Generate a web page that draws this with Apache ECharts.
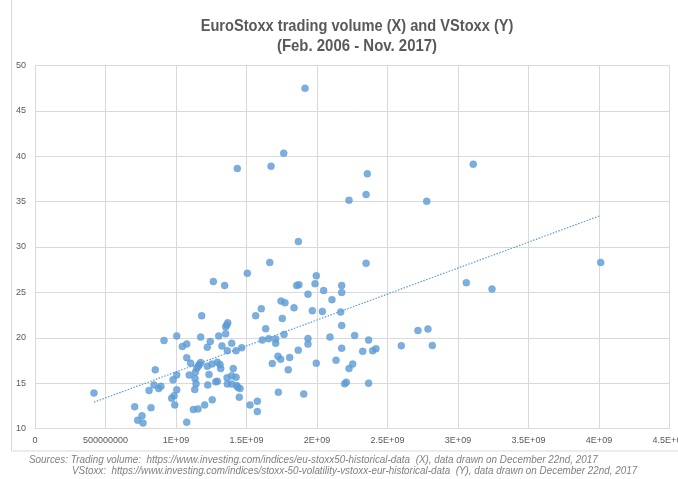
<!DOCTYPE html>
<html>
<head>
<meta charset="utf-8">
<script src="https://cdn.jsdelivr.net/npm/echarts@6/dist/echarts.min.js"></script>
<style>
html,body{margin:0;padding:0;background:#fff;}
#chart{width:678px;height:479px;}
</style>
</head>
<body>
<div id="chart"></div>
<script>
// Trading volume (billions) – X
var volumeBn = [
0.418,0.853,0.844,0.809,0.877,0.893,0.707,0.823,0.759,0.728,0.766,
1.182,1.367,1.36,1.352,1.352,1.303,1.005,1.175,0.915,1.243,1.395,1.076,1.045,1.222,1.326,1.364,1.426,1.076,1.104,1.175,1.165,1.158,1.147,1.137,1.094,1.222,1.255,1.293,1.312,1.317,1.406,1.234,1.293,1.362,1.395,1.426,1.364,1.395,1.43,0.979,1.005,1.135,1.142,1.133,1.225,1.005,0.986,0.969,0.991,1.076,1.123,1.156,1.203,1.257,1.282,1.449,1.438,
1.265,1.345,
1.868,1.665,1.506,1.995,1.856,1.872,1.986,2.047,1.936,2.106,1.745,1.773,1.605,1.837,1.565,1.967,2.038,1.754,1.636,1.766,1.612,1.657,1.707,1.707,1.936,1.936,2.092,1.466,1.867,1.723,1.742,1.806,1.683,1.796,1.995,2.135,1.454,1.726,1.906,1.525,1.577,1.577,
2.348,2.175,2.175,2.168,2.175,2.267,2.366,2.175,2.324,2.395,2.418,2.253,2.227,2.196,2.208,2.366,2.598,2.716,2.787,2.818,
3.108,2.778,4.012,3.059,3.241,
1.915,1.764,1.435,1.674,2.357,2.348,2.227
];
// VStoxx – Y
var vstoxx = [
13.9,16.47,14.8,14.2,14.4,14.65,12.4,12.3,11.4,10.9,10.6,
22.43,21.65,21.4,21.2,20.44,20.2,20.2,20.07,19.7,19.6,19.4,19.3,19.04,18.96,19.1,18.57,18.57,17.8,17.2,17.27,17.05,16.87,16.65,16.2,15.9,16.87,17.1,17.3,17.05,16.6,16.6,15.95,15.2,15.6,15.8,15.65,14.9,14.9,14.73,15.36,15.9,15.5,14.92,14.3,14.8,14.26,13.6,13.33,12.6,10.7,12.1,12.16,12.6,13.16,15.14,13.45,14.55,
26.2,25.77,
30.6,28.3,27.1,26.84,25.77,25.85,25.96,25.2,24.8,24.2,24.04,23.86,23.2,23.3,22.43,22.98,22.9,22.13,21.0,20.37,19.74,19.9,19.85,19.4,19.92,19.3,20.07,18.9,18.63,17.97,17.64,17.83,17.16,16.47,17.2,17.53,14.4,14.0,13.8,12.6,13.0,11.86,
28.2,25.77,25.0,22.83,21.36,20.25,19.74,18.85,18.5,18.57,18.8,17.1,16.6,14.93,15.1,15.0,19.12,20.8,20.96,19.15,
39.13,35.04,28.3,26.07,25.36,
47.48,40.34,38.65,38.9,38.06,35.78,35.16
];
// Linear trendline endpoints
var trendX = [0.418, 4.012];
var trendY = [12.9, 33.47];

var xTickLabels = {'0':'0','0.5':'500000000','1':'1E+09','1.5':'1.5E+09','2':'2E+09','2.5':'2.5E+09','3':'3E+09','3.5':'3.5E+09','4':'4E+09','4.5':'4.5E+09'};

var titleLines = ['EuroStoxx trading volume (X) and VStoxx (Y)', '(Feb. 2006 - Nov. 2017)'];
var sourceLines = [
 'Sources: Trading volume:  https://www.investing.com/indices/eu-stoxx50-historical-data  (X), data drawn on December 22nd, 2017',
 'VStoxx:  https://www.investing.com/indices/stoxx-50-volatility-vstoxx-eur-historical-data  (Y), data drawn on December 22nd, 2017'
];

var points = volumeBn.map(function(v,i){return [v, vstoxx[i]];});
var trend = trendX.map(function(v,i){return [v, trendY[i]];});

var FONT = '"Liberation Sans",Arial,sans-serif';

var chart = echarts.init(document.getElementById('chart'));
chart.setOption({
  animation:false,
  backgroundColor:'#fff',
  grid:{left:35, right:8.5, top:65.5, bottom:50.5, containLabel:false, outerBoundsMode:'none'},
  xAxis:{
    type:'value', min:0, max:4.5, interval:0.5,
    axisLine:{show:true, lineStyle:{color:'#d9d9d9', width:1}},
    axisTick:{show:false},
    splitLine:{show:true, lineStyle:{color:'#d9d9d9', width:1}},
    axisLabel:{color:'#595959', fontSize:9, fontFamily:FONT, margin:8, showMaxLabel:true, hideOverlap:false,
      formatter:function(v){var k=String(Math.round(v*10)/10);return xTickLabels[k]!==undefined?xTickLabels[k]:'';}}
  },
  yAxis:{
    type:'value', min:10, max:50, interval:5,
    axisLine:{show:false}, axisTick:{show:false},
    splitLine:{show:true, lineStyle:{color:'#d9d9d9', width:1}},
    axisLabel:{color:'#595959', fontSize:9, fontFamily:FONT, margin:9}
  },
  graphic:[
    {type:'rect', silent:true, z:-1, shape:{x:11.5, y:-2, width:680, height:453}, style:{fill:'none', stroke:'#d9d9d9', lineWidth:1}},
    {type:'text', x:357, y:26, scaleX:0.86, style:{text:titleLines[0], x:0, y:0, textAlign:'center', textVerticalAlign:'middle', fill:'#595959', font:'bold 17px '+FONT}},
    {type:'text', x:357, y:46, scaleX:0.88, style:{text:titleLines[1], x:0, y:0, textAlign:'center', textVerticalAlign:'middle', fill:'#595959', font:'bold 17px '+FONT}},
    {type:'text', x:29, y:460, scaleX:0.9, style:{text:sourceLines[0], x:0, y:0, textVerticalAlign:'middle', fill:'#7f7f7f', font:'italic 11px '+FONT}},
    {type:'text', x:72, y:471, scaleX:0.897, style:{text:sourceLines[1], x:0, y:0, textVerticalAlign:'middle', fill:'#7f7f7f', font:'italic 11px '+FONT}}
  ],
  series:[
    {type:'scatter', data:points, symbol:'circle', symbolSize:7,
     itemStyle:{color:'#5B9BD5', borderColor:'#5B9BD5', borderWidth:0.5}},
    {type:'line', data:trend, symbol:'none', silent:true,
     lineStyle:{color:'#5B9BD5', width:1.2, type:[1.5,1.5]}}
  ]
});
</script>
</body>
</html>
